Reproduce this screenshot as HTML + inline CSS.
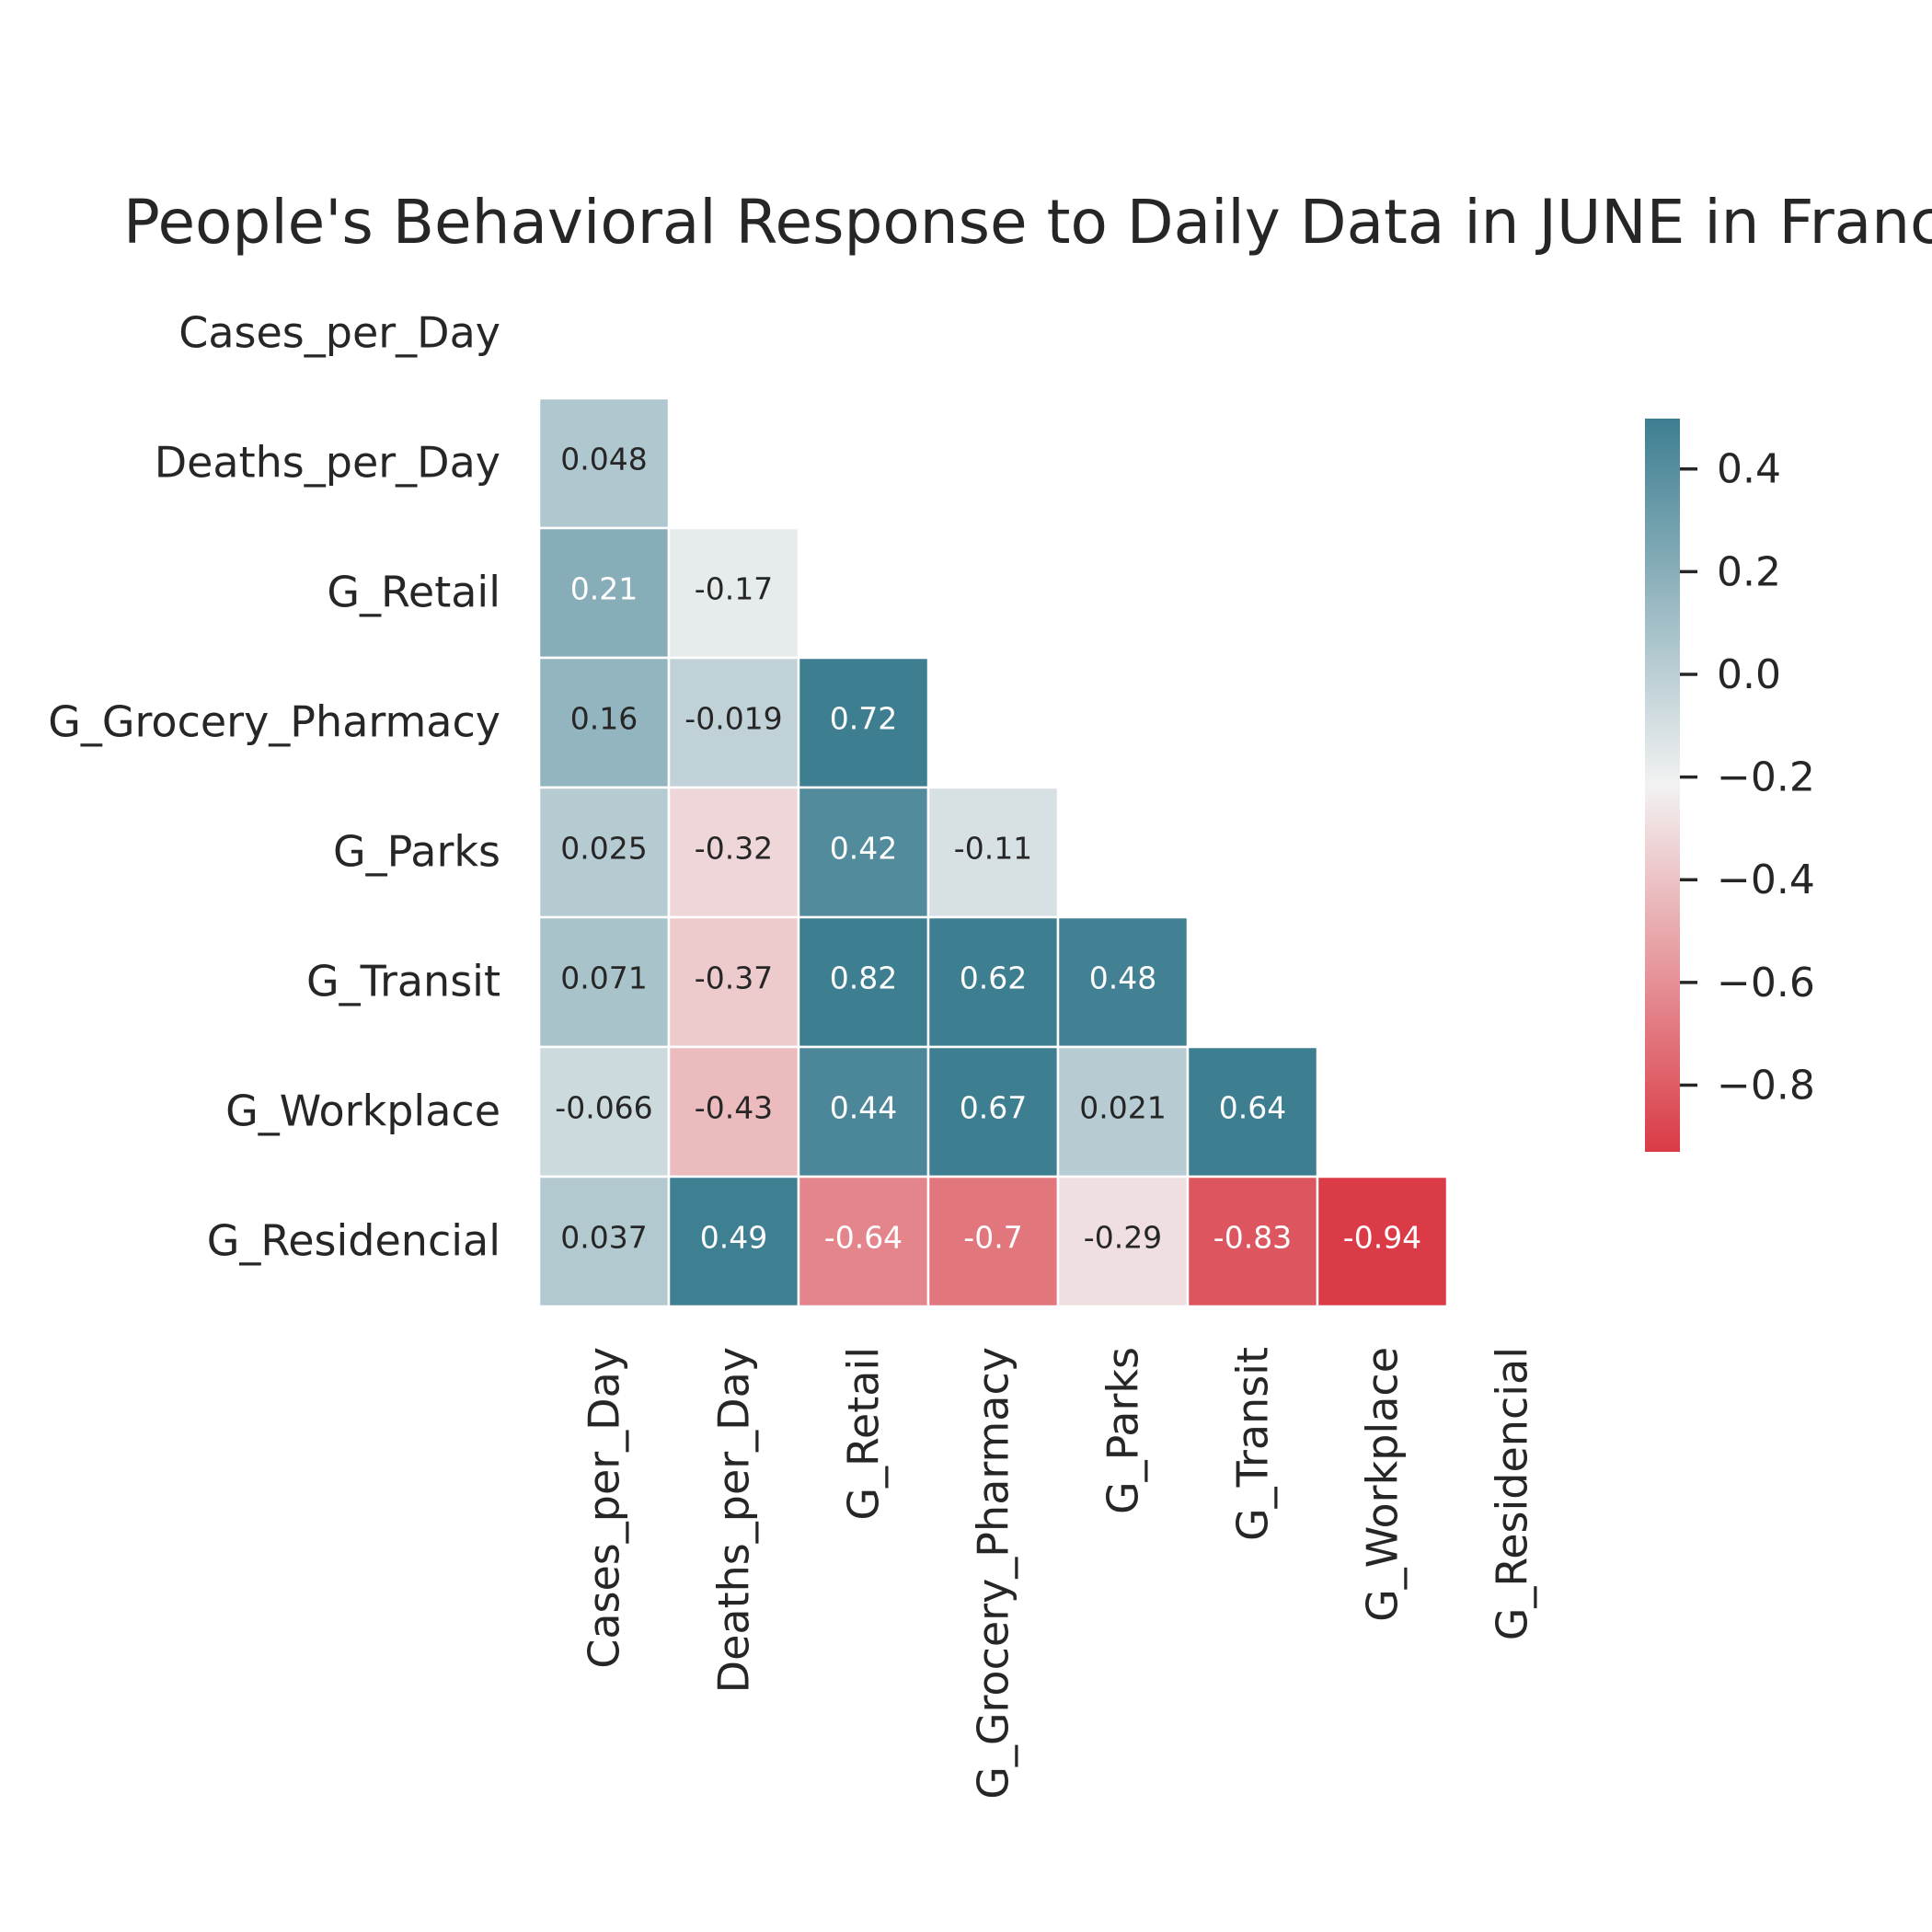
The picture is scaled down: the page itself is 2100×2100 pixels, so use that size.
<!DOCTYPE html>
<html><head><meta charset="utf-8"><style>
html,body{margin:0;padding:0;background:#fff;}
svg{display:block;font-family:"DejaVu Sans","Liberation Sans",sans-serif;}
</style></head><body>
<svg id="chart" width="2100" height="2100" viewBox="0 0 2100 2100" xmlns="http://www.w3.org/2000/svg">
<rect width="2100" height="2100" fill="#fff"/>
<text x="134" y="264" font-size="66" fill="#262626">People's Behavioral Response to Daily Data in JUNE in France</text>
<defs><linearGradient id="cbg" x1="0" y1="1" x2="0" y2="0"></linearGradient></defs>
<g id="cells"></g>
<g id="ylabels"></g>
<g id="xlabels"></g>
<g id="cbar"></g>
</svg>
<script>
const categories = ["Cases_per_Day","Deaths_per_Day","G_Retail","G_Grocery_Pharmacy","G_Parks","G_Transit","G_Workplace","G_Residencial"];
const row1 = [0.048];
const row2 = [0.21,-0.17];
const row3 = [0.16,-0.019,0.72];
const row4 = [0.025,-0.32,0.42,-0.11];
const row5 = [0.071,-0.37,0.82,0.62,0.48];
const row6 = [-0.066,-0.43,0.44,0.67,0.021,0.64];
const row7 = [0.037,0.49,-0.64,-0.7,-0.29,-0.83,-0.94];
const rows = [[],row1,row2,row3,row4,row5,row6,row7];
const cbTicks = [0.4,0.2,0.0,-0.2,-0.4,-0.6,-0.8];
const vmin = -0.93, vmax = 0.498;

const NS="http://www.w3.org/2000/svg";
const X0=586, Y0=292, CELL=141;
const xPos = j => X0 + j*CELL;
const yPos = i => Y0 + i*CELL;
const CB_TOP=455, CB_BOT=1252, CB_X=1788, CB_W=38;
const cbY = v => CB_BOT - (v - vmin)/(vmax - vmin)*(CB_BOT-CB_TOP);

const RED=[218,59,70], MID=[242,242,242], BLUE=[61,126,145];
function color(v){
  let t=(v-vmin)/(vmax-vmin); t=Math.max(0,Math.min(1,t));
  let a,b,u;
  if(t<0.5){a=RED;b=MID;u=t/0.5;} else {a=MID;b=BLUE;u=(t-0.5)/0.5;}
  return [0,1,2].map(k=>Math.round(a[k]+(b[k]-a[k])*u));
}
function lum(c){const l=c.map(x=>{x/=255;return x<=0.03928?x/12.92:Math.pow((x+0.055)/1.055,2.4);});return 0.2126*l[0]+0.7152*l[1]+0.0722*l[2];}
function mk(tag,attrs,parent){const e=document.createElementNS(NS,tag);for(const k in attrs)e.setAttribute(k,attrs[k]);parent.appendChild(e);return e;}

const cells=document.getElementById('cells');
rows.forEach((r,i)=>{
  r.forEach((v,j)=>{
    const c=color(v);
    const rect=mk('rect',{x:xPos(j),y:yPos(i),width:CELL,height:CELL,fill:`rgb(${c})`,stroke:'#fff','stroke-width':2.5},cells);
    
    
    const t=mk('text',{x:xPos(j)+CELL/2,y:yPos(i)+CELL/2+7,'text-anchor':'middle','font-size':33,fill:lum(c)<0.408?'#fff':'#262626'},cells);
    t.textContent=String(v);
    
    
  });
});
const yl=document.getElementById('ylabels');
categories.forEach((name,i)=>{
  const t=mk('text',{x:544,y:yPos(i)+CELL/2+15,'text-anchor':'end','font-size':46,fill:'#262626'},yl);
  t.textContent=name;
  
  
});
const xl=document.getElementById('xlabels');
categories.forEach((name,j)=>{
  const cx=xPos(j)+CELL/2+16, cy=1464;
  const t=mk('text',{x:cx,y:cy,'text-anchor':'end','font-size':46,fill:'#262626',transform:`rotate(-90 ${cx} ${cy})`},xl);
  t.textContent=name;
  
  
});
const g=document.getElementById('cbg');
for(let s=0;s<=20;s++){
  const v=vmin+(vmax-vmin)*s/20;const c=color(v);
  mk('stop',{offset:(s/20),'stop-color':`rgb(${c})`},g);
}
const cb=document.getElementById('cbar');
const bar=mk('rect',{x:CB_X,y:CB_TOP,width:CB_W,height:CB_BOT-CB_TOP,fill:'url(#cbg)'},cb);


cbTicks.forEach(v=>{
  const y=cbY(v);
  const l=mk('line',{x1:CB_X+CB_W,x2:CB_X+CB_W+19,y1:y,y2:y,stroke:'#262626','stroke-width':3.5},cb);
  
  
  const t=mk('text',{x:1866,y:y+15,'font-size':44,fill:'#262626'},cb);
  t.textContent=(v<0?'\u2212':'')+Math.abs(v).toFixed(1);
  
  
});
</script>
</body></html>
